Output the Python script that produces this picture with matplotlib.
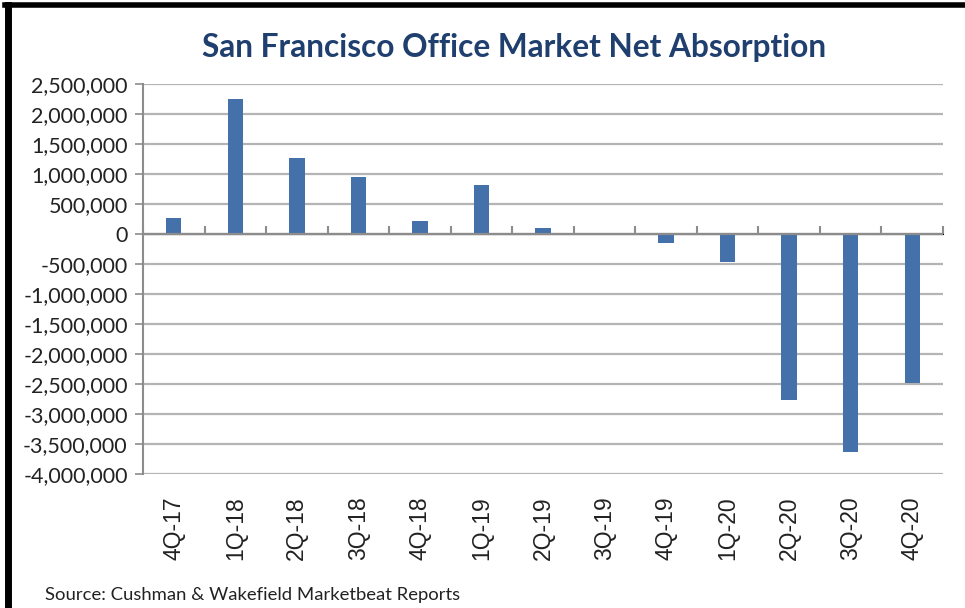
import numpy as np
import matplotlib.pyplot as plt
from matplotlib.lines import Line2D
from matplotlib.ticker import FuncFormatter

# data
quarters = ['4Q-17', '1Q-18', '2Q-18', '3Q-18', '4Q-18', '1Q-19', '2Q-19',
            '3Q-19', '4Q-19', '1Q-20', '2Q-20', '3Q-20', '4Q-20']
absorption = [265000, 2245000, 1270000, 950000, 220000, 820000, 95000,
              0, -145000, -467000, -2767000, -3628000, -2483000]

bar_color = '#4571aa'
grid_color = '#b4b4b4'
axis_color = '#8c8c8c'

fig = plt.figure(figsize=(9.65, 6.08), dpi=100)
ax = fig.add_axes([143 / 965, 1 - 474 / 608, 800 / 965, 390 / 608])

x = np.arange(len(quarters))
ax.bar(x, absorption, width=0.25, color=bar_color, zorder=3)

ymin, ymax = -4000000, 2500000
ax.set_ylim(ymin, ymax)
ax.set_xlim(-0.5, len(quarters) - 0.5)
ax.set_yticks(np.arange(ymin, ymax + 1, 500000))
ax.yaxis.set_major_formatter(FuncFormatter(lambda v, p: f'{int(v):,}'))
ax.grid(axis='y', color=grid_color, linewidth=1.6, zorder=0)

for s in ['top', 'right', 'bottom']:
    ax.spines[s].set_visible(False)
ax.spines['left'].set_color(axis_color)
ax.spines['left'].set_linewidth(1.5)
ax.tick_params(axis='y', length=6, width=1.2, color=axis_color,
               labelsize=15.5, labelcolor='#222222', pad=5)
for lab in ax.get_yticklabels():
    lab.set_family('Lato')

# category labels at the bottom
ax.set_xticks(x)
ax.set_xticklabels(quarters, rotation=90, fontsize=16.5, family='Liberation Sans',
                   color='#222222')
ax.tick_params(axis='x', length=0, pad=16)

# zero line with tick marks between categories
ax.axhline(0, color=axis_color, linewidth=1.6, zorder=4)
zero_loc = (0 - ymin) / (ymax - ymin)
sec = ax.secondary_xaxis(zero_loc)
sec.set_xticks(np.arange(-0.5, len(quarters), 1.0))
sec.set_xticklabels([])
sec.spines['bottom'].set_visible(False)
sec.tick_params(axis='x', length=6, width=1.5, color=axis_color)

fig.text(514 / 965, 1 - 48 / 608, 'San Francisco Office Market Net Absorption',
         ha='center', va='center', fontsize=22.8, fontweight='bold',
         color='#1f3f6e', family='Lato')
fig.text(45 / 965, 1 - 595 / 608, 'Source: Cushman & Wakefield Marketbeat Reports',
         ha='left', va='center', fontsize=13.3, color='#222222', family='Lato')

# black frame on top and left edge
fig.add_artist(Line2D([5 / 965, 963 / 965], [1 - 5 / 608, 1 - 5 / 608],
                      color='black', linewidth=4, transform=fig.transFigure))
fig.add_artist(Line2D([8 / 965, 8 / 965], [1 - 5 / 608, 0],
                      color='black', linewidth=5, transform=fig.transFigure))

fig.savefig('out.png', dpi=100)
